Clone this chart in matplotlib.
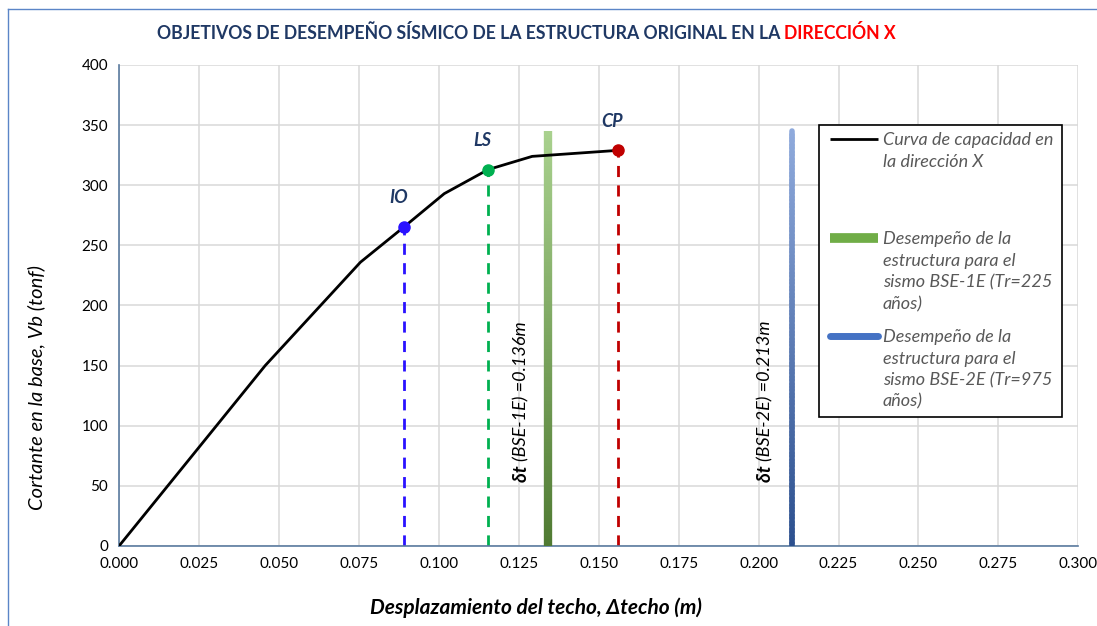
import numpy as np
import matplotlib
matplotlib.use("Agg")
import matplotlib.pyplot as plt
from matplotlib.collections import LineCollection
from matplotlib.colors import to_rgb
from matplotlib.lines import Line2D

plt.rcParams['font.family'] = ['Lato', 'DejaVu Sans']

# capacity curve (pushover)
curve_x = [0.0, 0.0457, 0.0755, 0.0892, 0.1017, 0.1154, 0.1292, 0.156]
curve_y = [0.0, 150.0, 236.0, 265.5, 293.0, 313.0, 324.0, 329.0]

# performance points
point_names = ['IO', 'LS', 'CP']
point_x = [0.0892, 0.1154, 0.156]
point_y = [265.5, 313.0, 329.0]
point_colors = ['#2a12ff', '#00b050', '#c00000']

# target displacements (bars)
bse1_x = 0.134
bse2_x = 0.2105
bar_top = 345.0
bse1_text = '=0.136m'
bse2_text = '=0.213m'

x_ticks = [0.0, 0.025, 0.05, 0.075, 0.1, 0.125, 0.15, 0.175, 0.2, 0.225, 0.25, 0.275, 0.3]
y_ticks = [0, 50, 100, 150, 200, 250, 300, 350, 400]

legend_labels = ['Curva de capacidad en\nla dirección X',
                 'Desempeño de la\nestructura para el\nsismo BSE-1E (Tr=225\naños)',
                 'Desempeño de la\nestructura para el\nsismo BSE-2E (Tr=975\naños)']


def gradient_bar(ax, x, top, c_top, c_bot, lw, cap='butt', n=120):
    ys = np.linspace(0, top, n + 1)
    segs = [[(x, ys[i]), (x, ys[i + 1])] for i in range(n)]
    a = np.array(to_rgb(c_bot))
    b = np.array(to_rgb(c_top))
    t = (ys[:-1] + ys[1:]) / 2 / top
    cols = [tuple(a + (b - a) * k) for k in t]
    lc = LineCollection(segs, colors=cols, linewidths=lw, capstyle=cap, zorder=3)
    ax.add_collection(lc)


def main():
    fig = plt.figure(figsize=(10.97, 6.26), dpi=100)
    ax = fig.add_axes([0.1085, 0.1278, 0.8745, 0.7684])

    ax.set_xlim(0, 0.3)
    ax.set_ylim(0, 400)
    ax.set_xticks(x_ticks)
    ax.set_yticks(y_ticks)
    ax.set_xticklabels(['%.3f' % v for v in x_ticks])
    ax.tick_params(length=0, labelsize=11, pad=8, colors='#000000')
    ax.grid(True, color='#d9d9d9', linewidth=1.1)
    ax.set_axisbelow(True)
    for s in ['top', 'right']:
        ax.spines[s].set_visible(False)
    for s in ['left', 'bottom']:
        ax.spines[s].set_color('#5b7ba0')
        ax.spines[s].set_linewidth(1.2)

    # bars
    gradient_bar(ax, bse1_x, bar_top, '#a9d18e', '#4f7a32', 6.0)
    gradient_bar(ax, bse2_x, bar_top, '#8faadc', '#2b4f8e', 4.0, cap='round')

    # dashed verticals + points
    for name, px, py, c in zip(point_names, point_x, point_y, point_colors):
        ax.plot([px, px], [0, py], color=c, lw=2, ls=(0, (4, 3)), zorder=2)
    ax.plot(curve_x, curve_y, color='black', lw=2, zorder=4)
    for name, px, py, c in zip(point_names, point_x, point_y, point_colors):
        ax.plot(px, py, 'o', color=c, ms=8, zorder=5)
        ax.annotate(name, (px, py), xytext=(-4, 15), textcoords='offset points',
                    ha='center', va='bottom', fontsize=13, fontweight='bold',
                    fontstyle='italic', color='#1f3864')

    # rotated displacement labels
    for bx, lab, tag in [(bse1_x, bse1_text, '(BSE-1E) '), (bse2_x, bse2_text, '(BSE-2E) ')]:
        t1 = ax.annotate('δt ', (bx, 0), xytext=(-19, 46), textcoords='offset points',
                         rotation=90, ha='center', va='bottom', fontsize=13.5,
                         fontweight='bold', fontstyle='italic', color='black')
        ax.annotate(tag + lab, xy=(0.5, 1), xycoords=t1, rotation=90,
                    ha='center', va='bottom', fontsize=13, fontstyle='italic',
                    color='black')

    ax.set_xlabel('Desplazamiento del techo, Δtecho (m)', fontsize=15,
                  fontweight='bold', fontstyle='italic')
    ax.xaxis.set_label_coords(0.4345, -0.108)
    ax.set_ylabel('Cortante en la base, Vb (tonf)', fontsize=14.5,
                  fontstyle='italic')
    ax.yaxis.set_label_coords(-0.077, 0.33)

    # title in two colours
    t = fig.text(0.143, 0.947, 'OBJETIVOS DE DESEMPEÑO SÍSMICO DE LA ESTRUCTURA ORIGINAL EN LA ',
                 ha='left', va='center', fontsize=12.7, fontweight='bold', color='#1f3864')
    ax.annotate('DIRECCIÓN X', xy=(1, 0.5), xycoords=t, ha='left', va='center',
                fontsize=12.7, fontweight='bold', color='#ff0000')

    # legend box drawn by hand (handles sit on the first text line)
    box = plt.Rectangle((0.7297, 0.2682), 0.2531, 0.6071, transform=ax.transAxes,
                        facecolor='white', edgecolor='black', lw=1.2, zorder=6)
    ax.add_patch(box)
    handles = [('black', 2.0, 'butt'), ('#70ad47', 7.0, 'butt'), ('#4472c4', 5.0, 'round')]
    rows = [0.846, 0.640, 0.4366]
    for (c, lw, cap), yy, lab in zip(handles, rows, legend_labels):
        ax.add_line(Line2D([0.7408, 0.7908], [yy, yy], transform=ax.transAxes,
                           color=c, lw=lw, solid_capstyle=cap, zorder=7))
        ax.text(0.7960, yy + 0.014, lab, transform=ax.transAxes, ha='left', va='top',
                fontsize=13, fontstyle='italic', color='#595959', linespacing=1.42,
                zorder=7)

    # outer chart border
    fig.add_artist(Line2D([7.5 / 1097, 1.0], [1 - 8.5 / 626, 1 - 8.5 / 626],
                          transform=fig.transFigure, color='#5b85c7', lw=1))
    fig.add_artist(Line2D([7.5 / 1097, 7.5 / 1097], [0, 1 - 8.5 / 626],
                          transform=fig.transFigure, color='#5b85c7', lw=1))

    fig.savefig('out.png', dpi=100)


if __name__ == "__main__":
    main()
